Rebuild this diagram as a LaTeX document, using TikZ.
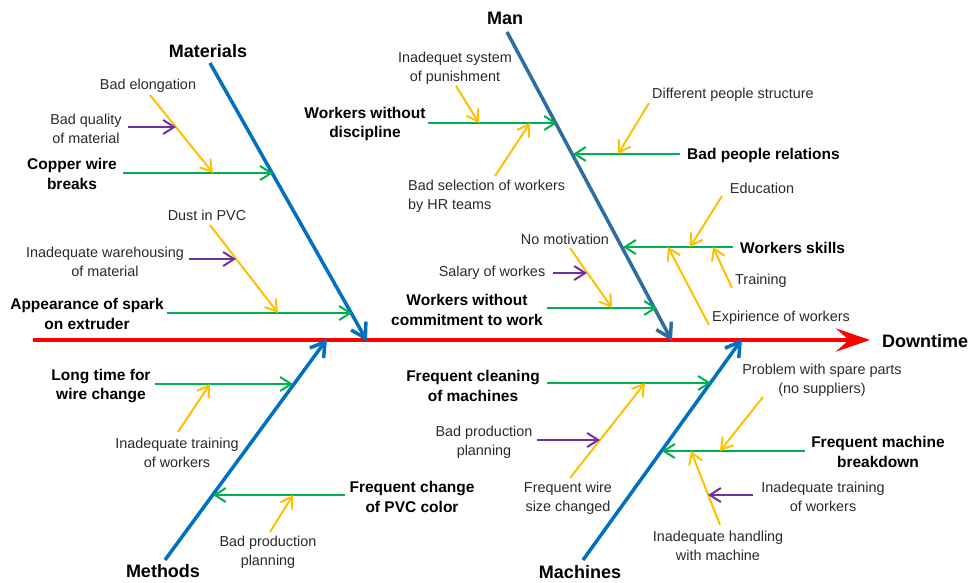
\documentclass[tikz,border=0pt]{standalone}
\usepackage{fontspec}
\setmainfont{Liberation Sans}
\usetikzlibrary{arrows.meta}
\definecolor{cgreen}{HTML}{00B050}
\definecolor{cyellow}{HTML}{FFC000}
\definecolor{cpurple}{HTML}{7030A0}
\definecolor{cblue}{HTML}{0070C0}
\definecolor{cman}{HTML}{2E6CA4}
\definecolor{cred}{HTML}{FF0000}
\definecolor{ctext}{HTML}{2A2A2A}
\tikzset{
  title/.style={inner sep=0pt, font=\fontsize{18}{22}\selectfont\bfseries, text=black},
  cause/.style={inner sep=0pt, align=center, yshift=-1pt, font=\fontsize{15.5}{19.5}\selectfont\bfseries, text=black},
  sub/.style={inner sep=0pt, align=center, yshift=-1.5pt, font=\fontsize{14.4}{19}\selectfont, text=ctext},
  tip/.style={-{Straight Barb[length=11pt,width=14pt]}},
  garrow/.style={tip, draw=cgreen, line width=2pt},
  yarrow/.style={tip, draw=cyellow, line width=2pt},
  parrow/.style={tip, draw=cpurple, line width=2pt},
  bone/.style={-{Straight Barb[length=14pt,width=17pt]}, line width=3.5pt},
  spine/.style={-{Stealth[length=34pt,width=23pt,inset=13pt]}, draw=cred, line width=4.5pt},
}
\begin{document}
\begin{tikzpicture}[x=1pt,y=-1pt]
\useasboundingbox (0,0) rectangle (973,582);
% ---- coordinates
\coordinate (spS) at (33,340);  \coordinate (spE) at (870,340);
\coordinate (matS) at (210,63);  \coordinate (matE) at (367,341);
\coordinate (manS) at (507,32);  \coordinate (manE) at (672,341);
\coordinate (metS) at (165,560); \coordinate (metE) at (327,339);
\coordinate (macS) at (583,560); \coordinate (macE) at (742,339);
% green
\coordinate (g1a) at (123,173); \coordinate (g1b) at (273,173);
\coordinate (g2a) at (167,313); \coordinate (g2b) at (352,313);
\coordinate (g3a) at (428,123); \coordinate (g3b) at (557,123);
\coordinate (g4a) at (680,154); \coordinate (g4b) at (573,154);
\coordinate (g5a) at (733,247); \coordinate (g5b) at (623,247);
\coordinate (g6a) at (547,308); \coordinate (g6b) at (657,308);
\coordinate (g7a) at (155,384); \coordinate (g7b) at (293,384);
\coordinate (g8a) at (345,495); \coordinate (g8b) at (213,495);
\coordinate (g9a) at (547,383); \coordinate (g9b) at (711,383);
\coordinate (g10a) at (805,451); \coordinate (g10b) at (662,451);
% yellow
\coordinate (y1a) at (150,95);  \coordinate (y1b) at (213,173);
\coordinate (y2a) at (210,225); \coordinate (y2b) at (278,313);
\coordinate (y3a) at (456,86);  \coordinate (y3b) at (479,123);
\coordinate (y4a) at (495,176); \coordinate (y4b) at (530,123);
\coordinate (y5a) at (649,103); \coordinate (y5b) at (618,154);
\coordinate (y6a) at (722,196); \coordinate (y6b) at (690,247);
\coordinate (y7a) at (732,288); \coordinate (y7b) at (713,247);
\coordinate (y8a) at (709,325); \coordinate (y8b) at (668,247);
\coordinate (y9a) at (570,248); \coordinate (y9b) at (612,308);
\coordinate (y10a) at (178,432); \coordinate (y10b) at (210,384);
\coordinate (y11a) at (270,532); \coordinate (y11b) at (293,495);
\coordinate (y12a) at (570,478); \coordinate (y12b) at (645,383);
\coordinate (y13a) at (763,397); \coordinate (y13b) at (720,451);
\coordinate (y14a) at (720,525); \coordinate (y14b) at (691,451);
% purple
\coordinate (p1a) at (128,127); \coordinate (p1b) at (176,127);
\coordinate (p2a) at (189,259); \coordinate (p2b) at (236,259);
\coordinate (p3a) at (553,273); \coordinate (p3b) at (587,273);
\coordinate (p4a) at (537,440); \coordinate (p4b) at (600,440);
\coordinate (p5a) at (753,495); \coordinate (p5b) at (708,495);

% ---- connectors
\draw[spine] (spS) -- (spE);
\draw[bone, draw=cblue] (matS) -- (matE);
\draw[bone, draw=cman] (manS) -- (manE);
\draw[bone, draw=cblue] (metS) -- (metE);
\draw[bone, draw=cblue] (macS) -- (macE);

\foreach \i in {1,...,10} \draw[garrow] (g\i a) -- (g\i b);
\foreach \i in {1,...,14} \draw[yarrow] (y\i a) -- (y\i b);
\foreach \i in {1,...,5} \draw[parrow] (p\i a) -- (p\i b);

% ---- titles
\node[title] (tmat) at (208,51) {Materials};
\node[title] (tman) at (505,18) {Man};
\node[title] (tmet) at (163,571) {Methods};
\node[title] (tmac) at (580,572) {Machines};
\node[title, anchor=west] (tdown) at (882,341) {Downtime};

% ---- causes
\node[cause] (copper) at (72,173) {Copper wire\\breaks};
\node[cause] (spark) at (87,313) {Appearance of spark\\on extruder};
\node[cause] (discipline) at (365,123) {Workers without\\discipline};
\node[cause, anchor=west] (relations) at (687,154) {Bad people relations};
\node[cause, anchor=west] (skills) at (740,247) {Workers skills};
\node[cause] (commitment) at (467,309) {Workers without\\commitment to work};
\node[cause] (longtime) at (101,385) {Long time for\\wire change};
\node[cause] (pvc) at (412,496) {Frequent change\\of PVC color};
\node[cause] (cleaning) at (473,385) {Frequent cleaning\\of machines};
\node[cause] (breakdown) at (878,451) {Frequent machine\\breakdown};

% ---- sub-causes
\node[sub] (elong) at (148,84) {Bad elongation};
\node[sub] (quality) at (86,127) {Bad quality\\of material};
\node[sub] (dust) at (207,214) {Dust in PVC};
\node[sub] (warehouse) at (105,260) {Inadequate warehousing\\of material};
\node[sub] (punish) at (455,67) {Inadequet system\\of punishment};
\node[sub, align=left, anchor=west] (hrsel) at (408,195) {Bad selection of workers\\by HR teams};
\node[sub, anchor=west] (diffstruct) at (652,93) {Different people structure};
\node[sub] (education) at (762,187) {Education};
\node[sub, anchor=west] (training) at (735,279) {Training};
\node[sub, anchor=west] (experience) at (712,316) {Expirience of workers};
\node[sub] (motivation) at (565,238) {No motivation};
\node[sub] (salary) at (492,271) {Salary of workes};
\node[sub] (trainmeth) at (177,451) {Inadequate training\\of workers};
\node[sub] (planmeth) at (268,551) {Bad production\\planning};
\node[sub] (wiresize) at (568,497) {Frequent wire\\size changed};
\node[sub] (planmach) at (484,441) {Bad production\\planning};
\node[sub] (spare) at (822,379) {Problem with spare parts\\(no suppliers)};
\node[sub] (handling) at (718,544) {Inadequate handling\\with machine};
\node[sub] (trainmach) at (823,495) {Inadequate training\\of workers};
\end{tikzpicture}
\end{document}
